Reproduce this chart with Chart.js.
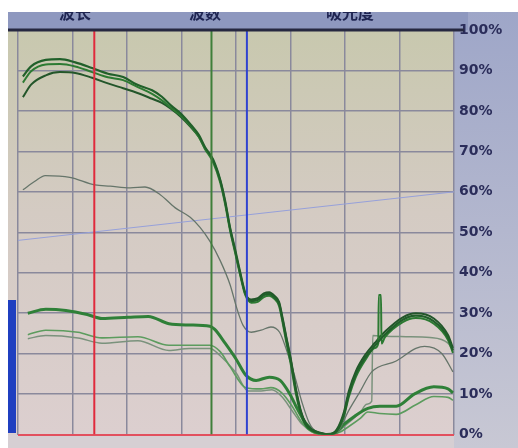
<!DOCTYPE html>
<html>
<head>
<meta charset="utf-8">
<script src="https://cdn.jsdelivr.net/npm/chart.js@4/dist/chart.umd.min.js"></script>
<style>
	html, body { margin: 0; padding: 0; background: #ffffff; }
	#wrap { position: absolute; left: 8px; top: 12px; width: 510px; height: 436px; }
</style>
</head>
<body>
<div id="wrap"><canvas id="spectrum" width="510" height="436"></canvas></div>
<script>
// Spectrum screen: transmittance (%) against wavelength (nm)
var headerLabels = ["波长", "波数", "吸光度"];
var yTicks = [0, 10, 20, 30, 40, 50, 60, 70, 80, 90, 100];

// marker lines (wavelength, nm)
var redMarker = 540;
var greenMarker = 755;
var blueMarker = 820;

// upper group of traces
var topWave = [409, 424, 451, 477, 505, 536, 565, 593, 618, 646, 664, 681, 699, 717, 732, 743, 758, 771, 780, 789,
	798, 807, 817, 828, 840, 851, 861, 870, 879, 886, 892, 901, 910, 919, 928, 938, 956, 970, 985, 998,
	1007, 1020, 1037, 1055, 1073, 1106, 1130, 1163, 1189, 1198];
var topA = [88.5, 91, 92.6, 92.8, 92, 90.6, 89.2, 88.4, 86.5, 85.1, 83.5, 81.3, 79.3, 76.6, 74, 71.1, 68, 63, 57.8, 51.2,
	46, 40.5, 35, 33, 33.3, 34.5, 34.8, 34, 32.4, 28, 23.9, 17.9, 10.8, 5.5, 2.5, 1.2, 0.3, 0, 1, 5,
	10, 15, 19, 22, 24.7, 28.4, 29.4, 28, 24, 20.8];
var topC = [83.4, 86.5, 88.8, 89.6, 89.4, 88.2, 86.8, 85.6, 84.5, 83, 82, 80.5, 78.5, 76, 73.6, 70.8, 67.7, 62.8, 57.5, 51,
	45.6, 40.2, 34.8, 33.4, 33.7, 34.9, 35.2, 34.4, 32.8, 28.5, 24.4, 18.4, 11.3, 5.9, 2.8, 1.4, 0.4, 0, 1.3, 5.6,
	10.8, 15.7, 19.7, 22.7, 25.4, 29, 30, 28.7, 24.6, 21.4];
// second upper trace carries the glitch spike
var topBWave = [409, 424, 451, 477, 505, 536, 565, 593, 618, 646, 664, 681, 699, 717, 732, 743, 758, 771, 780, 789,
	798, 807, 817, 828, 840, 851, 861, 870, 879, 886, 892, 901, 910, 919, 928, 938, 956, 970, 985, 998,
	1007, 1020, 1037, 1055, 1061, 1062, 1066, 1067, 1073, 1106, 1130, 1163, 1189, 1198];
var topB = [87, 89.8, 91.5, 91.6, 91, 89.6, 88.3, 87.6, 86, 84.2, 82.6, 80.7, 78.8, 76.2, 73.5, 70.6, 67.3, 62.3, 57, 50.5,
	45.2, 39.8, 34.5, 32.6, 32.8, 34, 34.3, 33.6, 31.8, 27.4, 23, 17, 10, 5, 2.2, 1, 0.2, 0, 0.8, 4.5,
	9.3, 14.3, 18.4, 21.4, 22.5, 34.5, 34.5, 22.5, 24, 27.8, 28.8, 27.4, 23.4, 20.2];

// thin grey trace
var greyWave = [409, 431, 450, 495, 541, 569, 606, 633, 661, 688, 716, 734, 752, 771, 789, 802, 813, 828, 846, 864,
	880, 893, 906, 921, 934, 949, 968, 985, 1007, 1027, 1049, 1094, 1130, 1146, 1178, 1198];
var greyValues = [60.5, 62.6, 64, 63.6, 61.7, 61.4, 61, 61.2, 59.3, 56.1, 53.7, 51.2, 47.8, 43, 37.1, 31, 27, 25.3, 25.8, 26.6,
	25.3, 20.8, 15.3, 8, 3, 0.5, 0, 0.5, 6, 10.5, 15.5, 18.2, 21.3, 21.8, 20, 15.5];

// lower group of traces
var lowWave = [418, 451, 488, 527, 554, 602, 639, 677, 714, 752, 761, 780, 800, 818, 837, 861, 881, 899, 912, 927,
	940, 960, 983, 998, 1017, 1042, 1064, 1094, 1127, 1163, 1189, 1198];
var lowValues = [30, 31, 30.7, 29.7, 28.7, 29, 29.2, 27.4, 27.1, 26.8, 26, 22.6, 18.7, 14.7, 13.4, 14.2, 13.4, 10, 6.5, 3,
	1.2, 0, 0.5, 2.5, 4.5, 6.5, 7, 7, 10, 11.8, 11.3, 10.3];
var lightWave = [418, 451, 510, 554, 620, 677, 714, 752, 771, 789, 818, 846, 864, 884, 903, 921, 940, 960, 989, 1007,
	1028, 1042, 1064, 1094, 1130, 1163, 1189, 1198];
var lightValues = [24.7, 25.8, 25.3, 23.9, 24.2, 22.1, 22.1, 22.1, 20.5, 16.8, 11.6, 11.3, 11.6, 10.3, 7, 3, 0.6, 0, 0.5, 2,
	4, 5.6, 5.2, 5, 7.4, 9.4, 9.2, 8.5];
var paleWave = [418, 451, 510, 554, 620, 677, 714, 752, 771, 800, 822, 846, 866, 884, 903, 921, 942, 960, 989, 1007,
	1028, 1040, 1049, 1051, 1073, 1112, 1156, 1189, 1198];
var paleValues = [23.7, 24.5, 23.9, 22.6, 23.2, 20.8, 21.3, 21.3, 19.5, 15.3, 10.8, 10.8, 11.1, 9.4, 5.9, 2.6, 0.5, 0, 1, 3,
	5.5, 7.5, 8.2, 24.5, 24.3, 24.2, 24, 22.6, 20.8];

// faint reference line
var refWave = [400, 1200];
var refValues = [48, 60];

function pairs(xs, ys) {
	var out = [];
	for (var i = 0; i < xs.length; i++) out.push({ x: xs[i], y: ys[i] });
	return out;
}

function marker(x, color) {
	return {
		data: [{ x: x, y: 0 }, { x: x, y: 100 }],
		borderColor: color, borderWidth: 2, pointRadius: 0, tension: 0
	};
}

function trace(xs, ys, color, width) {
	return {
		data: pairs(xs, ys),
		borderColor: color, borderWidth: width, pointRadius: 0,
		cubicInterpolationMode: "monotone"
	};
}

var screenBg = {
	id: "screenBg",
	beforeDraw: function(chart) {
		var c = chart.ctx, a = chart.chartArea, w = chart.width, h = chart.height;
		c.save();
		var g = c.createLinearGradient(0, 0, 0, h);
		g.addColorStop(0, "#9ea6c8");
		g.addColorStop(1, "#c8c8d4");
		c.fillStyle = g;
		c.fillRect(0, 0, w, h);
		c.fillStyle = "#8e98bf";
		c.fillRect(0, 0, a.right + 14, a.top);
		var p = c.createLinearGradient(0, a.top, 0, a.bottom);
		p.addColorStop(0, "#c8c8ae");
		p.addColorStop(0.45, "#d4cbc3");
		p.addColorStop(1, "#dccfcf");
		c.fillStyle = p;
		c.fillRect(0, a.top, a.right, a.bottom - a.top);
		// strip under the plot
		c.fillStyle = "#d6cfd3";
		c.fillRect(0, a.bottom, a.right, h - a.bottom);
		c.fillStyle = "#1f3fc0";
		c.fillRect(0, 288, 8, 133);
		c.fillStyle = "#1f2552";
		c.font = "bold 16px 'Noto Sans CJK SC'";
		c.textAlign = "center";
		c.textBaseline = "middle";
		c.fillText(headerLabels[0], 67, 1);
		c.fillText(headerLabels[1], 197, 1);
		c.fillText(headerLabels[2], 342, 1);
		c.restore();
	},
	afterDraw: function(chart) {
		var c = chart.ctx, a = chart.chartArea;
		c.save();
		c.strokeStyle = "#262840";
		c.lineWidth = 3;
		c.beginPath();
		c.moveTo(0, a.top);
		c.lineTo(a.right + 10, a.top);
		c.stroke();
		c.restore();
	}
};

new Chart(document.getElementById("spectrum"), {
	type: "line",
	data: {
		datasets: [
			marker(redMarker, "#e02a3c"),
			marker(greenMarker, "#3f7f3a"),
			marker(blueMarker, "#3043d0"),
			trace(topWave, topA, "#21602a", 2.2),
			trace(topBWave, topB, "#2c7a32", 2),
			trace(topWave, topC, "#23562a", 2),
			trace(greyWave, greyValues, "#66756a", 1.3),
			trace(lowWave, lowValues, "#2f8038", 3),
			trace(lightWave, lightValues, "#5c9c5e", 1.6),
			trace(paleWave, paleValues, "#7a927c", 1.5),
			{
				data: pairs(refWave, refValues),
				borderColor: "#96a0da", borderWidth: 1, pointRadius: 0
			}
		]
	},
	options: {
		responsive: false,
		animation: false,
		layout: { padding: { left: 10, top: 18, right: 0, bottom: 11 } },
		scales: {
			x: {
				type: "linear", min: 400, max: 1200,
				ticks: { display: false, stepSize: 100 },
				border: { display: false },
				grid: { color: "#8a899c", lineWidth: 1.5, drawTicks: false },
				afterFit: function(s) { s.height = 0; }
			},
			y: {
				position: "right", min: 0, max: 100,
				afterBuildTicks: function(s) {
					s.ticks = yTicks.map(function(v) { return { value: v }; });
				},
				afterFit: function(s) { s.width = 64; },
				border: { display: false },
				grid: {
					drawTicks: false,
					color: function(ctx) {
						if (ctx.tick.value === 0) return "#e2505e";
						if (ctx.tick.value === 100) return "#262840";
						return "#8a899c";
					},
					lineWidth: function(ctx) { return ctx.tick.value === 0 ? 2 : 1.5; }
				},
				ticks: {
					padding: 5,
					crossAlign: "near",
					color: "#2b2d5a",
					font: { family: "DejaVu Sans", weight: "bold", size: 14 },
					callback: function(v) { return v + "%"; }
				}
			}
		},
		plugins: { legend: { display: false }, tooltip: { enabled: false } }
	},
	plugins: [screenBg]
});
</script>
</body>
</html>
